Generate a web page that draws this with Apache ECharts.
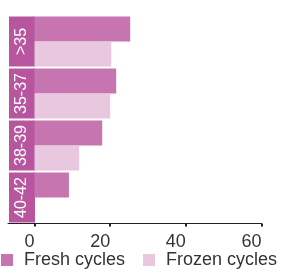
<!DOCTYPE html>
<html>
<head>
<meta charset="utf-8">
<script src="https://cdn.jsdelivr.net/npm/echarts@6/dist/echarts.min.js"></script>
<style>
html,body{margin:0;padding:0;background:#fff;}
#c{width:283px;height:273px;}
</style>
</head>
<body>
<div id="c"></div>
<script>
const categories = ['>35', '35-37', '38-39', '40-42'];
const freshCycles = [25.3, 21.6, 17.9, 9.1];
const frozenCycles = [20.3, 20.0, 11.8, 0];
const seriesNames = ['Fresh cycles', 'Frozen cycles'];
const xTicks = [0, 20, 40, 60];

const FONT = '"Liberation Sans", Arial, sans-serif';
const chart = echarts.init(document.getElementById('c'), null, {renderer: 'canvas'});
chart.setOption({
  animation: false,
  textStyle: {fontFamily: FONT},
  legend: {
    data: seriesNames,
    left: 1,
    top: 251,
    padding: 0,
    width: 290,
    icon: 'rect',
    itemWidth: 12,
    itemHeight: 12,
    itemGap: 18,
    textStyle: {fontSize: 18, color: '#333', fontFamily: FONT, padding: [0, 0, 0, 6]}
  },
  grid: {left: 8, right: 21.5, top: 15.5, bottom: 49.5, containLabel: false, outerBoundsMode: 'none'},
  xAxis: {
    type: 'value',
    min: -7,
    max: 60,
    splitLine: {show: false},
    axisLine: {show: true, lineStyle: {color: '#222', width: 1}},
    axisTick: {show: true, customValues: xTicks, length: 3, lineStyle: {color: '#222', width: 2}},
    axisLabel: {customValues: xTicks, align: 'right', margin: 10, fontSize: 18, color: '#333', fontFamily: FONT}
  },
  yAxis: {
    type: 'category',
    data: categories,
    inverse: true,
    axisLine: {show: false, onZero: false},
    axisTick: {show: false},
    axisLabel: {
      inside: true, interval: 0, hideOverlap: false,
      rotate: 90, margin: 1, color: '#fff', fontSize: 16, fontFamily: FONT,
      backgroundColor: '#B7569F', width: 50, height: 26, lineHeight: 26, align: 'center'
    }
  },
  series: [
    {name: seriesNames[0], type: 'bar', data: freshCycles, barGap: '0%', barCategoryGap: '4%',
     itemStyle: {color: '#C775B0'}},
    {name: seriesNames[1], type: 'bar', data: frozenCycles, barGap: '0%', barCategoryGap: '4%',
     itemStyle: {color: '#E8C7DF'}}
  ]
});
</script>
</body>
</html>
